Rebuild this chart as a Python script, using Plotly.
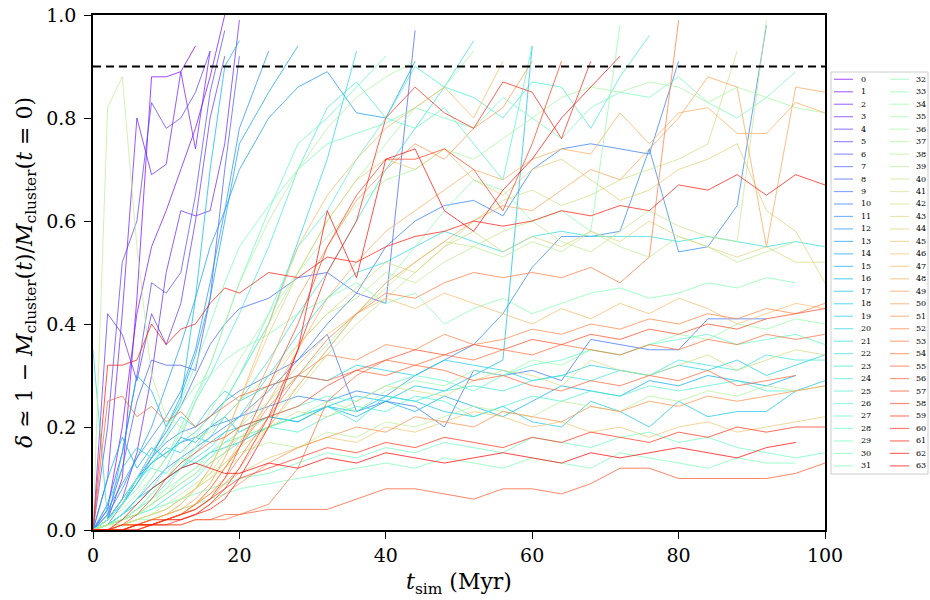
import math
import plotly.graph_objects as go

# time grid (Myr)
T = [0, 2, 4, 6, 8, 10, 12, 14, 16, 18, 20, 24, 28, 32, 36, 40, 44, 48, 52, 56,
     60, 64, 68, 72, 76, 80, 84, 88, 92, 96, 100]

s0 = [0, 0.02, 0.10, 0.45, 0.88, 0.88, 0.89, 0.94]
s1 = [0, 0.04, 0.20, 0.42, 0.55, 0.62, 0.70, 0.78, 0.88, 1.00]
s2 = [0, 0.10, 0.42, 0.80, 0.69, 0.71, 0.89, 0.74, 0.93]
s3 = [0, 0.02, 0.06, 0.15, 0.30, 0.50, 0.62, 0.61, 0.62, 0.75, 0.99]
s4 = [0, 0.42, 0.38, 0.29, 0.42, 0.36, 0.44, 0.60, 0.80, 0.92]
s5 = [0, 0.20, 0.52, 0.60, 0.83, 0.78, 0.80, 0.85, 0.93]
s6 = [0, 0.05, 0.15, 0.30, 0.48, 0.46, 0.50, 0.65, 0.85, 0.97]
s7 = [0, 0.03, 0.12, 0.25, 0.33, 0.32, 0.32, 0.31, 0.45, 0.70, 0.92]
s8 = [0, 0.02, 0.05, 0.10, 0.15, 0.19, 0.24, 0.30, 0.36, 0.40, 0.43, 0.45, 0.49, 0.50, 0.46, 0.44, 0.97]
s9 = [0, 0.01, 0.05, 0.10, 0.14, 0.17, 0.19, 0.20, 0.22, 0.25, 0.27, 0.30, 0.33, 0.38, 0.23, 0.25, 0.24, 0.20, 0.31, 0.30, 0.31, 0.29, 0.37, 0.36, 0.35, 0.35, 0.41, 0.41, 0.41]
s10 = [0, 0.01, 0.03, 0.06, 0.09, 0.12, 0.14, 0.16, 0.18, 0.20, 0.22, 0.27, 0.33, 0.40, 0.46, 0.55, 0.60, 0.63, 0.64, 0.61, 0.70, 0.74, 0.75, 0.74, 0.73, 0.91]
s11 = [0, 0.02, 0.06, 0.10, 0.13, 0.15, 0.17, 0.18, 0.20, 0.21, 0.22, 0.24, 0.26, 0.25, 0.27, 0.26, 0.30, 0.33, 0.36, 0.42, 0.51, 0.57, 0.57, 0.58, 0.74, 0.54, 0.55, 0.63, 0.98]
s12 = [0, 0.03, 0.08, 0.14, 0.18, 0.22, 0.27, 0.35, 0.48, 0.62, 0.78, 0.93]
s13 = [0, 0.04, 0.09, 0.14, 0.20, 0.28, 0.36, 0.45, 0.55, 0.62, 0.70, 0.80, 0.86, 0.89, 0.81, 0.80, 0.91]
s14 = [0, 0.02, 0.05, 0.09, 0.14, 0.20, 0.26, 0.34, 0.45, 0.60, 0.75, 0.85, 0.94]
s15 = [0, 0.10, 0.18, 0.12, 0.16, 0.14, 0.18, 0.17, 0.20, 0.22, 0.19, 0.22, 0.21, 0.24, 0.22, 0.25, 0.23, 0.26, 0.24, 0.22, 0.25, 0.28, 0.27, 0.26, 0.29, 0.28, 0.30, 0.29, 0.28, 0.30]
s16 = [0, 0.02, 0.15, 0.30, 0.27, 0.20, 0.25, 0.45, 0.70, 0.90, 0.95]
s17 = [0, 0.01, 0.03, 0.06, 0.08, 0.10, 0.12, 0.13, 0.15, 0.16, 0.17, 0.20, 0.22, 0.24, 0.26, 0.25, 0.28, 0.27, 0.30, 0.33, 0.94]
s18 = [0, 0.02, 0.05, 0.09, 0.13, 0.16, 0.15, 0.18, 0.17, 0.19, 0.20, 0.22, 0.21, 0.24, 0.23, 0.26, 0.25, 0.23, 0.22, 0.24, 0.21, 0.20, 0.25, 0.23, 0.20, 0.25, 0.22, 0.23, 0.23, 0.27, 0.29]
s19 = [0, 0.05, 0.12, 0.16, 0.14, 0.18, 0.22, 0.20, 0.24, 0.27, 0.25, 0.28, 0.30, 0.29, 0.32, 0.31, 0.30, 0.33, 0.32, 0.31, 0.29, 0.30, 0.32, 0.31, 0.30, 0.32, 0.31, 0.33, 0.30, 0.32, 0.34]
s20 = [0.35, 0.02, 0.05, 0.10, 0.13, 0.15, 0.17, 0.19, 0.22, 0.25, 0.30, 0.40, 0.56, 0.72, 0.93]
s21 = [0, 0.01, 0.03, 0.05, 0.08, 0.10, 0.12, 0.14, 0.16, 0.19, 0.22, 0.30, 0.38, 0.45, 0.50, 0.52, 0.55, 0.58, 0.56, 0.54, 0.57, 0.58, 0.57, 0.57, 0.57, 0.56, 0.57, 0.56, 0.55, 0.56, 0.55]
s22 = [0, 0.01, 0.02, 0.04, 0.06, 0.09, 0.12, 0.15, 0.18, 0.22, 0.25, 0.33, 0.42, 0.50, 0.60, 0.70, 0.78, 0.86, 0.95]
s23 = [0, 0.01, 0.02, 0.03, 0.04, 0.06, 0.08, 0.10, 0.13, 0.15, 0.17, 0.20, 0.22, 0.24, 0.21, 0.26, 0.25, 0.27, 0.28, 0.27, 0.29, 0.30, 0.29, 0.31, 0.30, 0.33, 0.32, 0.31, 0.34, 0.33, 0.33]
s24 = [0, 0.01, 0.03, 0.05, 0.08, 0.12, 0.18, 0.25, 0.30, 0.36, 0.42, 0.55, 0.70, 0.82, 0.87, 0.80, 0.90, 0.86, 0.84, 0.80, 0.87, 0.86, 0.78, 0.88, 0.96]
s25 = [0, 0.02, 0.06, 0.10, 0.12, 0.11, 0.14, 0.13, 0.15, 0.17, 0.18, 0.20, 0.19, 0.22, 0.24, 0.23, 0.26, 0.25, 0.22, 0.24, 0.26, 0.25, 0.27, 0.26, 0.28, 0.27, 0.28, 0.29, 0.27, 0.27]
s26 = [0, 0.01, 0.02, 0.04, 0.07, 0.10, 0.13, 0.16, 0.20, 0.25, 0.30, 0.42, 0.55, 0.62, 0.72, 0.80, 0.78, 0.82, 0.75, 0.68, 0.94]
s27 = [0, 0.01, 0.02, 0.03, 0.05, 0.07, 0.09, 0.11, 0.14, 0.17, 0.19, 0.22, 0.24, 0.26, 0.25, 0.28, 0.30, 0.29, 0.27, 0.30, 0.32, 0.33, 0.35, 0.34, 0.36, 0.37, 0.38, 0.36, 0.37, 0.38, 0.36]
s28 = [0, 0.01, 0.03, 0.06, 0.10, 0.14, 0.20, 0.26, 0.32, 0.40, 0.48, 0.62, 0.75, 0.80, 0.86, 0.92]
s29 = [0, 0.01, 0.02, 0.03, 0.04, 0.05, 0.06, 0.07, 0.08, 0.09, 0.10, 0.11, 0.13, 0.15, 0.14, 0.16, 0.15, 0.17, 0.16, 0.15, 0.18, 0.17, 0.16, 0.18, 0.19, 0.17, 0.18, 0.16, 0.15, 0.14, 0.15]
s30 = [0, 0.02, 0.05, 0.08, 0.12, 0.18, 0.25, 0.32, 0.40, 0.48, 0.55, 0.63, 0.70, 0.75, 0.77, 0.79, 0.82, 0.80, 0.78, 0.84, 0.80, 0.76, 0.82, 0.85, 0.84, 0.88, 0.83, 0.80, 0.84, 0.89]
s31 = [0, 0.01, 0.01, 0.02, 0.02, 0.03, 0.04, 0.05, 0.06, 0.07, 0.08, 0.09, 0.10, 0.11, 0.12, 0.13, 0.12, 0.14, 0.13, 0.12, 0.14, 0.13, 0.12, 0.15, 0.14, 0.13, 0.12, 0.14, 0.13, 0.13]
s32 = [0, 0.02, 0.05, 0.10, 0.15, 0.20, 0.24, 0.28, 0.30, 0.33, 0.35, 0.38, 0.42, 0.45, 0.48, 0.44, 0.46, 0.40, 0.43, 0.45, 0.42, 0.44, 0.46, 0.47, 0.45, 0.46, 0.48, 0.47, 0.49, 0.48]
s33 = [0, 0.01, 0.02, 0.04, 0.06, 0.08, 0.10, 0.12, 0.15, 0.18, 0.20, 0.25, 0.30, 0.36, 0.42, 0.48, 0.55, 0.62, 0.68, 0.66, 0.60, 0.62, 0.58, 0.98]
s34 = [0, 0.01, 0.02, 0.03, 0.05, 0.07, 0.10, 0.12, 0.14, 0.16, 0.18, 0.20, 0.22, 0.25, 0.23, 0.27, 0.29, 0.28, 0.31, 0.30, 0.33, 0.32, 0.35, 0.34, 0.36, 0.38, 0.37, 0.40, 0.39, 0.41, 0.40]
s35 = [0, 0.01, 0.02, 0.03, 0.05, 0.08, 0.12, 0.16, 0.20, 0.25, 0.30, 0.40, 0.50, 0.60, 0.68, 0.75, 0.82, 0.86, 0.93]
s36 = [0, 0.01, 0.02, 0.04, 0.07, 0.10, 0.14, 0.18, 0.23, 0.28, 0.33, 0.42, 0.50, 0.57, 0.63, 0.68, 0.70, 0.74, 0.72, 0.76, 0.80, 0.84, 0.86, 0.85, 0.87, 0.86, 0.83, 0.86, 0.84, 0.82, 0.81]
s37 = [0, 0.02, 0.04, 0.07, 0.10, 0.14, 0.19, 0.25, 0.32, 0.40, 0.48, 0.60, 0.70, 0.78, 0.84, 0.88, 0.91]
s38 = [0, 0.00, 0.01, 0.02, 0.03, 0.05, 0.07, 0.09, 0.11, 0.13, 0.15, 0.17, 0.16, 0.19, 0.18, 0.21, 0.20, 0.22, 0.24, 0.23, 0.22, 0.25, 0.24, 0.23, 0.26, 0.25, 0.27, 0.26, 0.28, 0.27, 0.28]
s39 = [0, 0.82, 0.88, 0.55, 0.30, 0.22, 0.20, 0.18, 0.19, 0.22, 0.25, 0.30, 0.36, 0.42, 0.45, 0.50, 0.48, 0.52, 0.55, 0.53, 0.56, 0.54, 0.58, 0.55, 0.53, 0.57, 0.55, 0.52, 0.54, 0.56]
s40 = [0, 0.01, 0.02, 0.03, 0.05, 0.07, 0.09, 0.11, 0.13, 0.15, 0.18, 0.22, 0.28, 0.35, 0.42, 0.47, 0.52, 0.56, 0.55, 0.58, 0.60, 0.56, 0.54, 0.58, 0.62, 0.59, 0.57, 0.56, 0.99]
s41 = [0, 0.01, 0.01, 0.02, 0.03, 0.04, 0.06, 0.08, 0.10, 0.12, 0.14, 0.20, 0.27, 0.34, 0.40, 0.45, 0.50, 0.55, 0.60, 0.64, 0.66, 0.63, 0.65, 0.68, 0.70, 0.72, 0.75, 0.93]
s42 = [0, 0.00, 0.01, 0.02, 0.03, 0.04, 0.06, 0.08, 0.10, 0.13, 0.16, 0.20, 0.23, 0.22, 0.25, 0.28, 0.27, 0.26, 0.29, 0.31, 0.30, 0.28, 0.33, 0.31, 0.30, 0.32, 0.34, 0.31, 0.33, 0.35, 0.34]
s43 = [0, 0.00, 0.01, 0.02, 0.03, 0.04, 0.06, 0.08, 0.11, 0.15, 0.20, 0.28, 0.36, 0.42, 0.47, 0.52, 0.50, 0.55, 0.58, 0.54, 0.57, 0.55, 0.58, 0.56, 0.60, 0.57, 0.55, 0.53, 0.55, 0.52, 0.52]
s44 = [0, 0.00, 0.01, 0.01, 0.02, 0.03, 0.05, 0.08, 0.12, 0.18, 0.25, 0.38, 0.50, 0.60, 0.68, 0.72, 0.70, 0.74, 0.68, 0.65, 0.70, 0.72, 0.68, 0.64, 0.66, 0.70, 0.72, 0.75, 0.62, 0.58, 0.48]
s45 = [0, 0.00, 0.01, 0.01, 0.02, 0.03, 0.04, 0.05, 0.07, 0.09, 0.11, 0.14, 0.16, 0.18, 0.17, 0.20, 0.19, 0.21, 0.23, 0.22, 0.20, 0.21, 0.19, 0.20, 0.18, 0.20, 0.21, 0.19, 0.20, 0.21, 0.22]
s46 = [0, 0.00, 0.01, 0.01, 0.02, 0.02, 0.03, 0.05, 0.08, 0.12, 0.17, 0.25, 0.32, 0.38, 0.42, 0.45, 0.43, 0.46, 0.44, 0.42, 0.40, 0.43, 0.41, 0.44, 0.42, 0.45, 0.43, 0.40, 0.42, 0.44, 0.43]
s47 = [0, 0.00, 0.01, 0.01, 0.02, 0.03, 0.05, 0.08, 0.12, 0.18, 0.25, 0.40, 0.55, 0.65, 0.72, 0.78, 0.82, 0.86, 0.80, 0.91]
s48 = [0, 0.00, 0.00, 0.01, 0.01, 0.02, 0.03, 0.05, 0.08, 0.12, 0.16, 0.25, 0.35, 0.45, 0.52, 0.58, 0.62, 0.66, 0.70, 0.68, 0.72, 0.74, 0.73, 0.81, 0.75, 0.81, 0.82, 0.77, 0.77, 0.83, 0.81]
s49 = [0, 0.00, 0.00, 0.01, 0.01, 0.02, 0.03, 0.04, 0.06, 0.09, 0.12, 0.20, 0.28, 0.35, 0.42, 0.48, 0.52, 0.56, 0.60, 0.63, 0.62, 0.66, 0.70, 0.68, 0.74, 0.80, 0.88, 0.86, 0.55, 0.86, 0.85]
s50 = [0, 0.00, 0.01, 0.01, 0.02, 0.03, 0.04, 0.06, 0.09, 0.14, 0.20, 0.32, 0.45, 0.55, 0.64, 0.70, 0.75, 0.72, 0.78, 0.82, 0.91]
s51 = [0, 0.00, 0.00, 0.01, 0.01, 0.02, 0.02, 0.03, 0.05, 0.07, 0.09, 0.13, 0.16, 0.18, 0.20, 0.19, 0.22, 0.21, 0.20, 0.23, 0.22, 0.21, 0.24, 0.23, 0.25, 0.24, 0.26, 0.25, 0.26, 0.27, 0.28]
s52 = [0, 0.00, 0.00, 0.01, 0.01, 0.02, 0.03, 0.05, 0.08, 0.12, 0.16, 0.24, 0.30, 0.34, 0.33, 0.36, 0.35, 0.38, 0.36, 0.37, 0.39, 0.38, 0.40, 0.39, 0.41, 0.40, 0.42, 0.41, 0.43, 0.42, 0.44]
s53 = [0, 0.00, 0.00, 0.01, 0.01, 0.02, 0.03, 0.05, 0.07, 0.10, 0.14, 0.22, 0.30, 0.37, 0.42, 0.46, 0.45, 0.48, 0.50, 0.49, 0.50, 0.49, 0.51, 0.48, 0.53, 0.99]
s54 = [0, 0.00, 0.00, 0.00, 0.01, 0.01, 0.01, 0.02, 0.02, 0.02, 0.03, 0.05, 0.12, 0.25, 0.30, 0.33, 0.32, 0.34, 0.33, 0.35, 0.34, 0.36, 0.35, 0.34, 0.36, 0.35, 0.37, 0.36, 0.38, 0.37, 0.38]
s55 = [0, 0.25, 0.26, 0.22, 0.24, 0.21, 0.23, 0.20, 0.22, 0.24, 0.26, 0.28, 0.30, 0.29, 0.31, 0.30, 0.32, 0.31, 0.29, 0.30, 0.28, 0.27, 0.29, 0.28, 0.30, 0.29, 0.31, 0.28, 0.29, 0.30]
s56 = [0, 0.00, 0.00, 0.00, 0.01, 0.01, 0.01, 0.02, 0.02, 0.03, 0.03, 0.04, 0.04, 0.04, 0.06, 0.08, 0.08, 0.07, 0.06, 0.08, 0.08, 0.07, 0.09, 0.12, 0.12, 0.10, 0.10, 0.10, 0.10, 0.11, 0.13]
s57 = [0, 0.00, 0.01, 0.03, 0.06, 0.10, 0.13, 0.15, 0.17, 0.18, 0.20, 0.22, 0.24, 0.28, 0.31, 0.33, 0.35, 0.34, 0.36, 0.35, 0.37, 0.36, 0.38, 0.37, 0.39, 0.38, 0.40, 0.39, 0.41, 0.42, 0.43]
s58 = [0, 0.00, 0.00, 0.01, 0.01, 0.02, 0.03, 0.04, 0.06, 0.10, 0.16, 0.28, 0.40, 0.55, 0.65, 0.72, 0.72, 0.74, 0.70, 0.62, 0.75, 0.91]
s59 = [0, 0.00, 0.01, 0.01, 0.02, 0.02, 0.03, 0.04, 0.06, 0.08, 0.10, 0.12, 0.14, 0.16, 0.15, 0.17, 0.16, 0.18, 0.17, 0.16, 0.18, 0.17, 0.19, 0.18, 0.17, 0.19, 0.18, 0.20, 0.19, 0.20, 0.20]
s60 = [0, 0.00, 0.00, 0.00, 0.01, 0.01, 0.02, 0.03, 0.05, 0.08, 0.12, 0.22, 0.35, 0.50, 0.60, 0.80, 0.86, 0.81, 0.78, 0.87, 0.85, 0.76, 0.91]
s61 = [0, 0.32, 0.32, 0.33, 0.40, 0.36, 0.39, 0.40, 0.44, 0.47, 0.46, 0.50, 0.49, 0.53, 0.52, 0.55, 0.57, 0.58, 0.60, 0.59, 0.60, 0.62, 0.61, 0.63, 0.62, 0.67, 0.66, 0.69, 0.65, 0.69, 0.67]
s62 = [0, 0.00, 0.00, 0.01, 0.01, 0.02, 0.02, 0.03, 0.04, 0.06, 0.10, 0.20, 0.35, 0.62, 0.49, 0.72, 0.74, 0.62, 0.58, 0.66, 0.72, 0.80, 0.86, 0.92]
s63 = [0, 0.00, 0.02, 0.05, 0.08, 0.10, 0.12, 0.13, 0.12, 0.11, 0.11, 0.13, 0.12, 0.14, 0.13, 0.15, 0.14, 0.13, 0.14, 0.15, 0.14, 0.13, 0.15, 0.14, 0.15, 0.16, 0.15, 0.14, 0.16, 0.17]

SERIES = [s0, s1, s2, s3, s4, s5, s6, s7, s8, s9, s10, s11, s12, s13, s14, s15,
          s16, s17, s18, s19, s20, s21, s22, s23, s24, s25, s26, s27, s28, s29, s30, s31,
          s32, s33, s34, s35, s36, s37, s38, s39, s40, s41, s42, s43, s44, s45, s46, s47,
          s48, s49, s50, s51, s52, s53, s54, s55, s56, s57, s58, s59, s60, s61, s62, s63]
LABELS = [str(i) for i in range(len(SERIES))]
X_TICKS = [0, 20, 40, 60, 80, 100]
Y_TICKS = [0.0, 0.2, 0.4, 0.6, 0.8, 1.0]
THRESHOLD = 0.9


def rainbow(x, alpha):
    r = min(1.0, max(0.0, abs(2 * x - 0.5)))
    g = math.sin(math.pi * x)
    b = math.cos(math.pi * x / 2)
    return "rgba(%d,%d,%d,%.2f)" % (round(r * 255), round(g * 255), round(b * 255), alpha)


n = len(SERIES)
COLORS = [rainbow(i / (n - 1), 0.72) for i in range(n)]
LEG_COLORS = [rainbow(i / (n - 1), 0.6) for i in range(n)]

fig = go.Figure()
for i, vals in enumerate(SERIES):
    fig.add_trace(go.Scatter(x=T[:len(vals)], y=vals, mode="lines", name=LABELS[i],
                             line=dict(color=COLORS[i], width=1), showlegend=False,
                             hoverinfo="skip"))

fig.add_shape(type="line", xref="x", yref="y", x0=0, x1=100, y0=THRESHOLD, y1=THRESHOLD,
              line=dict(color="black", width=2, dash="8px,5px"))

W, H = 930, 600
ML, MR, MT, MB = 93, 105, 15, 70
PW, PH = W - ML - MR, H - MT - MB


def px(x):
    return (x - ML) / PW


def py(y):
    return (H - MB - y) / PH


# manual two-column legend
fig.add_shape(type="rect", xref="paper", yref="paper", x0=px(831), x1=px(928), y0=py(474), y1=py(72),
              line=dict(color="#cccccc", width=1), fillcolor="white", layer="above")
half = (n + 1) // 2
annots = []
for i in range(n):
    col, row = divmod(i, half)
    yy = 79.3 + 12.47 * row
    lx0 = 834 if col == 0 else 890
    tx = 859 if col == 0 else 914
    fig.add_shape(type="line", xref="paper", yref="paper", x0=px(lx0), x1=px(lx0 + 19),
                  y0=py(yy), y1=py(yy), line=dict(color=LEG_COLORS[i], width=1.2), layer="above")
    annots.append(dict(text=LABELS[i], x=px(tx), y=py(yy), xref="paper", yref="paper",
                       xanchor="left", yanchor="middle", showarrow=False,
                       font=dict(size=8, family="DejaVu Serif", color="black")))

axis_common = dict(showline=True, mirror=True, linecolor="black", linewidth=1.5,
                   ticks="outside", ticklen=7, tickwidth=1.2, tickcolor="black",
                   showgrid=False, zeroline=False, automargin=False,
                   tickfont=dict(family="DejaVu Serif", size=19, color="black"))

fig.update_layout(
    width=W, height=H,
    margin=dict(l=ML, r=MR, t=MT, b=MB, autoexpand=False),
    paper_bgcolor="white", plot_bgcolor="white",
    showlegend=False,
    annotations=annots,
    xaxis=dict(range=[0, 100], tickvals=X_TICKS, ticktext=[str(v) for v in X_TICKS],
               title=dict(text="<i>t</i><sub>sim</sub> (Myr)", standoff=9,
                          font=dict(family="DejaVu Serif", size=22, color="black")),
               **axis_common),
    yaxis=dict(range=[0, 1], tickvals=Y_TICKS, ticktext=["%.1f" % v for v in Y_TICKS],
               ticklabelstandoff=4,
               title=dict(text="<i>δ</i> ≃ 1 − <i>M</i><sub>cluster</sub>(<i>t</i>)/<i>M</i><sub>cluster</sub>(<i>t</i> = 0)",
                          standoff=8, font=dict(family="DejaVu Serif", size=22, color="black")),
               **axis_common),
)

# remove the default page margin so the 930x600 figure fills the window exactly
fig.write_html("out.html", config={"displayModeBar": False},
               post_script="document.body.style.margin='0';document.body.style.overflow='hidden';")
